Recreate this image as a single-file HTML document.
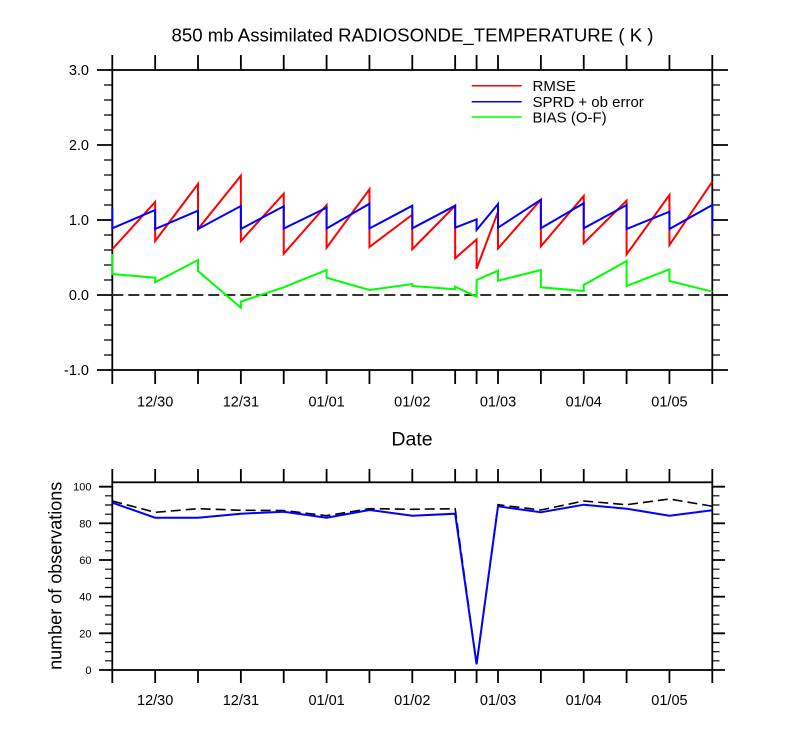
<!DOCTYPE html>
<html><head><meta charset="utf-8"><style>
html,body{margin:0;padding:0;background:#fff;}
svg{display:block;font-family:"Liberation Sans",Arial,sans-serif;}
</style></head><body>
<svg width="800" height="750" viewBox="0 0 800 750" xmlns="http://www.w3.org/2000/svg">
<rect width="800" height="750" fill="#fff"/>
<!-- Title -->
<text x="412.5" y="41.5" font-size="18.5" text-anchor="middle" textLength="482" lengthAdjust="spacingAndGlyphs">850 mb Assimilated RADIOSONDE_TEMPERATURE ( K )</text>

<!-- ===== TOP CHART ===== -->
<g stroke="#000" stroke-width="1.8" fill="none">
  <rect x="112.3" y="70" width="600" height="300"/>
  <!-- y major ticks -->
  <path d="M97 70H112.3M97 145H112.3M97 220H112.3M97 295H112.3M97 370H112.3
           M712.3 70H728M712.3 145H728M712.3 220H728M712.3 295H728M712.3 370H728"/>
  <!-- y minor ticks -->
  <path stroke-width="1.2" d="M104 85H112.3M104 100H112.3M104 115H112.3M104 130H112.3
   M104 160H112.3M104 175H112.3M104 190H112.3M104 205H112.3
   M104 235H112.3M104 250H112.3M104 265H112.3M104 280H112.3
   M104 310H112.3M104 325H112.3M104 340H112.3M104 355H112.3
   M712.3 85H720M712.3 100H720M712.3 115H720M712.3 130H720
   M712.3 160H720M712.3 175H720M712.3 190H720M712.3 205H720
   M712.3 235H720M712.3 250H720M712.3 265H720M712.3 280H720
   M712.3 310H720M712.3 325H720M712.3 340H720M712.3 355H720"/>
  <!-- x ticks top/bottom -->
  <path d="M112.3 55V70M155.16 55V70M198.01 55V70M240.87 55V70M283.73 55V70M326.59 55V70M369.44 55V70M412.3 55V70M455.16 55V70M476.59 55V70M498.01 55V70M540.87 55V70M583.73 55V70M626.59 55V70M669.44 55V70M712.3 55V70
           M112.3 370V384M155.16 370V384M198.01 370V384M240.87 370V384M283.73 370V384M326.59 370V384M369.44 370V384M412.3 370V384M455.16 370V384M476.59 370V384M498.01 370V384M540.87 370V384M583.73 370V384M626.59 370V384M669.44 370V384M712.3 370V384"/>
</g>
<!-- zero line -->
<line x1="112.3" y1="295" x2="712.3" y2="295" stroke="#333" stroke-width="2" stroke-dasharray="11,5"/>

<!-- RMSE -->
<polyline fill="none" stroke="#ff0000" stroke-width="2" stroke-linejoin="miter" points="
112.3,249.25 155.16,202 155.16,241 198.01,184 198.01,229 240.87,175.75 240.87,241
283.73,193.75 283.73,253.75 326.59,205 326.59,247.75 369.44,189.25 369.44,247
412.3,214.75 412.3,249.25 455.16,205.75 455.16,258.25 476.59,239.5 476.59,268.75
498.01,211.75 498.01,248.5 540.87,199.75 540.87,246.25 583.73,196 583.73,243.25
626.59,200.7 626.59,254.3 669.44,195 669.44,245 712.3,181.7"/>
<!-- SPRD -->
<polyline fill="none" stroke="#0000ff" stroke-width="2" points="
112.3,207.7 112.3,228.3 155.16,210 155.16,229 198.01,210.7 198.01,229 240.87,206 240.87,229
283.73,206.3 283.73,228.5 326.59,207.7 326.59,228.5 369.44,203.7 369.44,228.5
412.3,205.7 412.3,228.3 455.16,205.7 455.16,227.7 476.59,219.3 476.59,230
498.01,204 498.01,227.7 540.87,199.7 540.87,228.3 583.73,203.3 583.73,228.3
626.59,205 626.59,229 669.44,211.7 669.44,229 712.3,205 712.3,229"/>
<!-- BIAS -->
<polyline fill="none" stroke="#00ff00" stroke-width="2" points="
112.3,254 112.3,274 155.16,277.7 155.16,282.3 198.01,260 198.01,271 240.87,307.7 240.87,301.5
283.73,287.3 326.59,270 326.59,277.7 369.44,290 412.3,284 412.3,286
455.16,289.3 455.16,286.7 476.59,296.7 476.59,280 498.01,270.7 498.01,280.7
540.87,270 540.87,287.3 583.73,291 583.73,285 626.59,261 626.59,286
669.44,269.3 669.44,281 712.3,291.7"/>

<!-- Legend -->
<line x1="471.7" y1="85.7" x2="521.7" y2="85.7" stroke="#ff0000" stroke-width="1.5"/>
<line x1="471.7" y1="101.7" x2="521.7" y2="101.7" stroke="#0000ff" stroke-width="1.5"/>
<line x1="471.7" y1="117" x2="521.7" y2="117" stroke="#00ff00" stroke-width="1.5"/>
<g font-size="15" fill="#000">
  <text x="532.5" y="91">RMSE</text>
  <text x="532.5" y="106.8">SPRD + ob error</text>
  <text x="532.5" y="122.3">BIAS (O-F)</text>
</g>

<!-- Top y labels -->
<g font-size="14.5" text-anchor="end" fill="#000">
  <text x="89" y="75">3.0</text>
  <text x="89" y="150">2.0</text>
  <text x="89" y="225">1.0</text>
  <text x="89" y="300">0.0</text>
  <text x="89" y="375">-1.0</text>
</g>
<!-- Top x labels -->
<g font-size="14.5" text-anchor="middle" fill="#000">
  <text x="155.16" y="406.5">12/30</text>
  <text x="240.87" y="406.5">12/31</text>
  <text x="326.59" y="406.5">01/01</text>
  <text x="412.3" y="406.5">01/02</text>
  <text x="498.01" y="406.5">01/03</text>
  <text x="583.73" y="406.5">01/04</text>
  <text x="669.44" y="406.5">01/05</text>
</g>
<text x="412" y="445.7" font-size="19.5" text-anchor="middle">Date</text>

<!-- ===== BOTTOM CHART ===== -->
<g stroke="#000" stroke-width="1.8" fill="none">
  <rect x="112.3" y="482.3" width="600" height="187.7"/>
  <path d="M99 670H112.3M99 633.3H112.3M99 596.7H112.3M99 560H112.3M99 523.3H112.3M99 486.7H112.3
           M712.3 670H725M712.3 633.3H725M712.3 596.7H725M712.3 560H725M712.3 523.3H725M712.3 486.7H725"/>
  <path stroke-width="1.2" d="M105 660.8H112.3M105 651.7H112.3M105 642.5H112.3
   M105 624.2H112.3M105 615H112.3M105 605.8H112.3
   M105 587.5H112.3M105 578.3H112.3M105 569.2H112.3
   M105 550.8H112.3M105 541.7H112.3M105 532.5H112.3
   M105 514.2H112.3M105 505H112.3M105 495.8H112.3
   M712.3 660.8H719.5M712.3 651.7H719.5M712.3 642.5H719.5
   M712.3 624.2H719.5M712.3 615H719.5M712.3 605.8H719.5
   M712.3 587.5H719.5M712.3 578.3H719.5M712.3 569.2H719.5
   M712.3 550.8H719.5M712.3 541.7H719.5M712.3 532.5H719.5
   M712.3 514.2H719.5M712.3 505H719.5M712.3 495.8H719.5"/>
  <path d="M112.3 469V482.3M155.16 469V482.3M198.01 469V482.3M240.87 469V482.3M283.73 469V482.3M326.59 469V482.3M369.44 469V482.3M412.3 469V482.3M455.16 469V482.3M476.59 469V482.3M498.01 469V482.3M540.87 469V482.3M583.73 469V482.3M626.59 469V482.3M669.44 469V482.3M712.3 469V482.3
           M112.3 670V683M155.16 670V683M198.01 670V683M240.87 670V683M283.73 670V683M326.59 670V683M369.44 670V683M412.3 670V683M455.16 670V683M476.59 670V683M498.01 670V683M540.87 670V683M583.73 670V683M626.59 670V683M669.44 670V683M712.3 670V683"/>
</g>
<!-- dashed total obs -->
<polyline fill="none" stroke="#000" stroke-width="1.6" stroke-dasharray="10,5" points="
112.3,501 155.16,512.3 198.01,508.7 240.87,510.3 283.73,510.5 326.59,515.7 369.44,508.7
412.3,509.3 455.16,508.7 476.59,664.3 498.01,504.7 540.87,510 583.73,501 626.59,504.7
669.44,499 712.3,506.3"/>
<!-- blue used obs -->
<polyline fill="none" stroke="#0000ff" stroke-width="2" points="
112.3,502.7 155.16,517.7 198.01,517.7 240.87,513.7 283.73,511.7 326.59,517.7 369.44,510
412.3,515.7 455.16,513.7 476.59,664.3 498.01,506.3 540.87,512.3 583.73,504.7 626.59,508.7
669.44,515.7 712.3,510.3"/>

<!-- Bottom y labels -->
<g font-size="11" text-anchor="end" fill="#000">
  <text x="91.5" y="674">0</text>
  <text x="91.5" y="637.3">20</text>
  <text x="91.5" y="600.7">40</text>
  <text x="91.5" y="564">60</text>
  <text x="91.5" y="527.3">80</text>
  <text x="91.5" y="490.7">100</text>
</g>
<text transform="translate(61.7,575.8) rotate(-90)" font-size="18" text-anchor="middle">number of observations</text>
<!-- Bottom x labels -->
<g font-size="14.5" text-anchor="middle" fill="#000">
  <text x="155.16" y="705">12/30</text>
  <text x="240.87" y="705">12/31</text>
  <text x="326.59" y="705">01/01</text>
  <text x="412.3" y="705">01/02</text>
  <text x="498.01" y="705">01/03</text>
  <text x="583.73" y="705">01/04</text>
  <text x="669.44" y="705">01/05</text>
</g>
</svg>
</body></html>
